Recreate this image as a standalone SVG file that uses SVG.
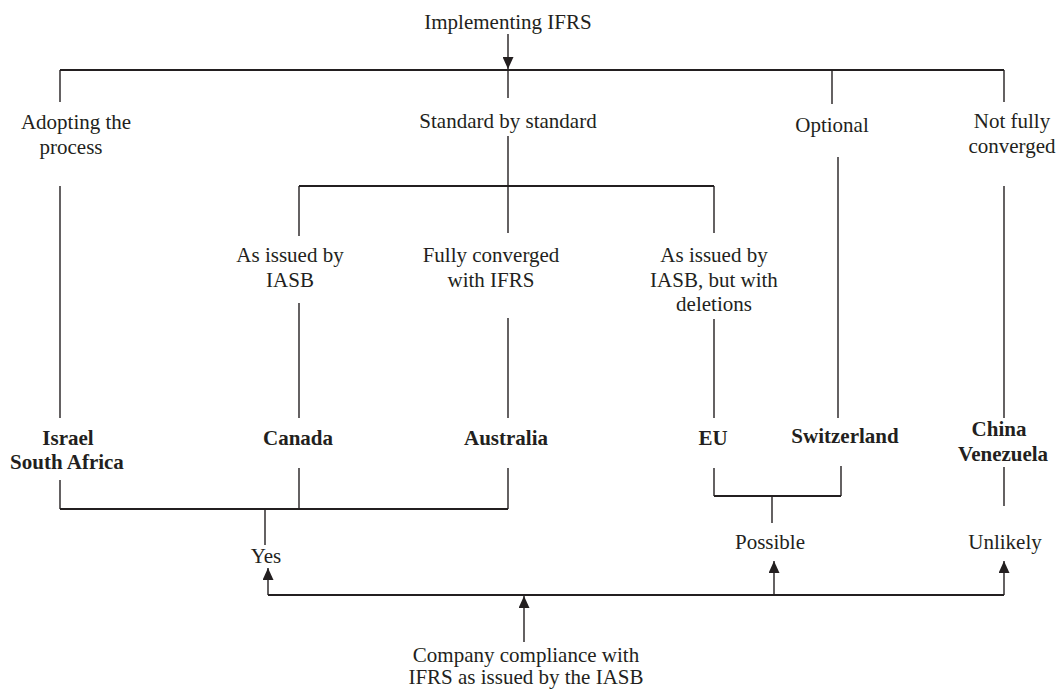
<svg xmlns="http://www.w3.org/2000/svg" width="1058" height="689" viewBox="0 0 1058 689">
<style>
.t{font-family:"Liberation Serif","Times New Roman",serif;font-size:21px;fill:#231f20;text-anchor:middle}
.b{font-weight:bold}
.c line{stroke:#231f20;stroke-width:1.4;fill:none}
.c line.h{stroke-width:2}
</style>
<defs>
<marker id="arr" markerUnits="userSpaceOnUse" markerWidth="12" markerHeight="11" viewBox="0 0 12 11" refX="12" refY="5.5" orient="auto">
<path d="M0,0 L12,5.5 L0,11 z" fill="#231f20"/>
</marker>
</defs>
<g id="connectors" class="c">
<line x1="508" y1="34" x2="508" y2="69" marker-end="url(#arr)"/>
<line class="h" x1="60" y1="70" x2="1004" y2="70"/>
<line x1="60" y1="70" x2="60" y2="102"/>
<line x1="508" y1="70" x2="508" y2="98"/>
<line x1="832" y1="70" x2="832" y2="104"/>
<line x1="1004" y1="70" x2="1004" y2="102"/>
<line x1="508" y1="136" x2="508" y2="186"/>
<line x1="838" y1="157" x2="838" y2="418"/>
<line x1="60" y1="186" x2="60" y2="418"/>
<line x1="1004" y1="186" x2="1004" y2="418"/>
<line class="h" x1="299" y1="186" x2="714" y2="186"/>
<line x1="299" y1="186" x2="299" y2="236"/>
<line x1="508" y1="186" x2="508" y2="233"/>
<line x1="714" y1="186" x2="714" y2="233"/>
<line x1="299" y1="303" x2="299" y2="418"/>
<line x1="508" y1="318" x2="508" y2="418"/>
<line x1="714" y1="319" x2="714" y2="418"/>
<line x1="60" y1="480" x2="60" y2="509"/>
<line x1="299" y1="468" x2="299" y2="509"/>
<line x1="508" y1="468" x2="508" y2="509"/>
<line class="h" x1="60" y1="509" x2="508" y2="509"/>
<line x1="265" y1="509" x2="265" y2="545"/>
<line x1="714" y1="468" x2="714" y2="496"/>
<line x1="841" y1="466" x2="841" y2="496"/>
<line class="h" x1="714" y1="496" x2="841" y2="496"/>
<line x1="772" y1="496" x2="772" y2="523"/>
<line x1="1004" y1="467" x2="1004" y2="506"/>
<line class="h" x1="268" y1="595" x2="1004" y2="595"/>
<line x1="268" y1="595" x2="268" y2="568" marker-end="url(#arr)"/>
<line x1="774" y1="595" x2="774" y2="561" marker-end="url(#arr)"/>
<line x1="1004" y1="595" x2="1004" y2="561" marker-end="url(#arr)"/>
<line x1="524" y1="642" x2="524" y2="596" marker-end="url(#arr)"/>
</g>
<g id="n-implementing"><text class="t" x="508" y="29">Implementing IFRS</text></g>
<g id="n-adopting"><text class="t" x="76" y="129">Adopting the</text><text class="t" x="71" y="154">process</text></g>
<g id="n-standard"><text class="t" x="508" y="128">Standard by standard</text></g>
<g id="n-optional"><text class="t" x="832" y="132">Optional</text></g>
<g id="n-notfully"><text class="t" x="1012" y="128">Not fully</text><text class="t" x="1012" y="153">converged</text></g>
<g id="n-asissued"><text class="t" x="290" y="262">As issued by</text><text class="t" x="290" y="287">IASB</text></g>
<g id="n-fully"><text class="t" x="491" y="262">Fully converged</text><text class="t" x="491" y="287">with IFRS</text></g>
<g id="n-deletions"><text class="t" x="714" y="262">As issued by</text><text class="t" x="714" y="287">IASB, but with</text><text class="t" x="714" y="311">deletions</text></g>
<g id="n-israel"><text class="t b" x="68" y="445">Israel</text><text class="t b" x="67" y="469">South Africa</text></g>
<g id="n-canada"><text class="t b" x="298" y="445">Canada</text></g>
<g id="n-australia"><text class="t b" x="506" y="445">Australia</text></g>
<g id="n-eu"><text class="t b" x="713" y="445">EU</text></g>
<g id="n-switzerland"><text class="t b" x="845" y="443">Switzerland</text></g>
<g id="n-china"><text class="t b" x="999" y="436">China</text><text class="t b" x="1003" y="461">Venezuela</text></g>
<g id="n-yes"><text class="t" x="266" y="563">Yes</text></g>
<g id="n-possible"><text class="t" x="770" y="549">Possible</text></g>
<g id="n-unlikely"><text class="t" x="1005" y="549">Unlikely</text></g>
<g id="n-compliance"><text class="t" x="526" y="662">Company compliance with</text><text class="t" x="526" y="684">IFRS as issued by the IASB</text></g>
</svg>
